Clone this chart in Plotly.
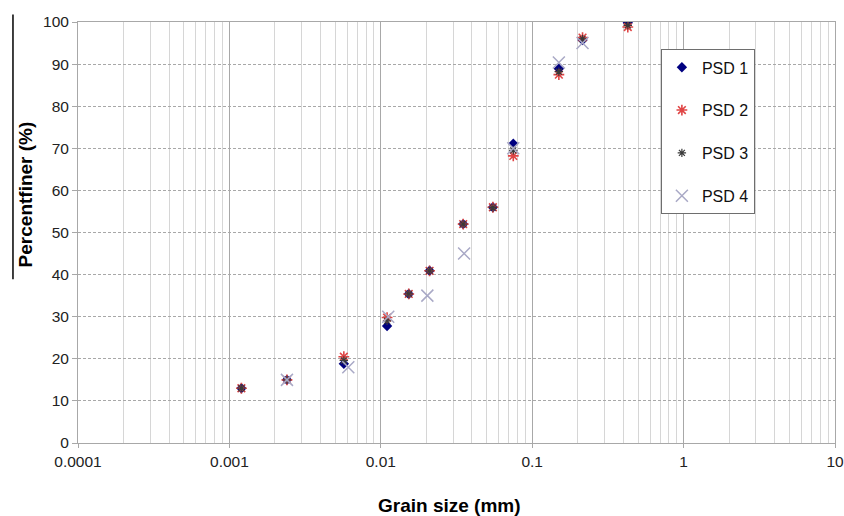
import plotly.graph_objects as go

# ---- data ----
psd1_x = [0.0012, 0.0024, 0.0057, 0.011, 0.0153, 0.021, 0.035, 0.055, 0.075, 0.150, 0.215, 0.428]
psd1_y = [13.0, 15.0, 18.8, 27.8, 35.4, 40.9, 52.0, 56.0, 71.1, 88.9, 95.7, 99.8]

psd2_x = [0.0012, 0.0024, 0.0057, 0.011, 0.0153, 0.021, 0.035, 0.055, 0.075, 0.150, 0.215, 0.428]
psd2_y = [13.0, 15.0, 20.5, 29.8, 35.4, 40.9, 52.0, 56.0, 68.2, 87.5, 96.3, 98.8]

psd3_x = [0.0012, 0.0024, 0.0057, 0.011, 0.0153, 0.021, 0.035, 0.055, 0.075, 0.150, 0.215, 0.428]
psd3_y = [13.0, 15.0, 19.6, 29.0, 35.4, 40.9, 52.0, 55.9, 69.5, 88.2, 96.0, 99.2]

psd4_x = [0.0024, 0.0061, 0.0112, 0.0203, 0.0355, 0.075, 0.150, 0.215]
psd4_y = [15.0, 18.0, 30.0, 35.0, 45.0, 70.0, 90.4, 95.0]

x_tick_vals = [0.0001, 0.001, 0.01, 0.1, 1, 10]
x_tick_text = ["0.0001", "0.001", "0.01", "0.1", "1", "10"]
y_tick_vals = [0, 10, 20, 30, 40, 50, 60, 70, 80, 90, 100]

FONT = "Liberation Sans, Arial, sans-serif"

fig = go.Figure()
fig.add_trace(go.Scatter(x=psd1_x, y=psd1_y, mode="markers", name="PSD 1",
                         legendgroup="g1",
                         marker=dict(symbol="diamond", size=8, color="#000080",
                                     line=dict(width=0))))
fig.add_trace(go.Scatter(x=psd2_x, y=psd2_y, mode="markers", name="PSD 2",
                         legendgroup="g2",
                         marker=dict(symbol="asterisk-open", size=9, color="#E04545",
                                     line=dict(width=1.6, color="#E04545"))))
fig.add_trace(go.Scatter(x=psd3_x, y=psd3_y, mode="markers", name="PSD 3",
                         legendgroup="g3",
                         marker=dict(symbol="asterisk-open", size=7, color="#3a3a3a",
                                     line=dict(width=1.2, color="#3a3a3a"))))
fig.add_trace(go.Scatter(x=psd4_x, y=psd4_y, mode="markers", name="PSD 4",
                         legendgroup="g4",
                         marker=dict(symbol="x-thin-open", size=12, color="#A9A9C6",
                                     line=dict(width=1.5, color="#A9A9C6"))))

fig.update_layout(
    width=844, height=516,
    margin=dict(l=78, r=9, t=22, b=73),
    paper_bgcolor="white", plot_bgcolor="white",
    font=dict(family=FONT, size=15.5, color="#222222"),
    showlegend=True,
    legend=dict(x=0.770, y=0.935, xanchor="left", yanchor="top",
                bgcolor="white", bordercolor="#6e6e6e", borderwidth=1,
                font=dict(family=FONT, size=16, color="#111111"),
                tracegroupgap=19, itemwidth=30),
    xaxis=dict(type="log", range=[-4, 1], automargin=False,
               tickvals=x_tick_vals, ticktext=x_tick_text,
               showgrid=True, gridcolor="#a8a8a8", gridwidth=1,
               showline=True, linecolor="#a8a8a8", linewidth=1, mirror=True,
               ticks="outside", ticklen=4, tickcolor="#a8a8a8",
               tickfont=dict(size=15.5, color="#222222"),
               minor=dict(dtick="D1", showgrid=True, gridcolor="#d6d6d6",
                          gridwidth=1, ticks=""),
               zeroline=False),
    yaxis=dict(range=[0, 100], tickvals=y_tick_vals, automargin=False,
               showgrid=True, gridcolor="#a8a8a8", gridwidth=1,
               griddash="3px,2px",
               showline=True, linecolor="#a8a8a8", linewidth=1, mirror=True,
               ticks="outside", ticklen=5, tickcolor="#a8a8a8",
               tickfont=dict(size=15.5, color="#222222"),
               zeroline=False),
    annotations=[
        dict(text="<b>Percentfiner (%)</b>", xref="paper", yref="paper",
             x=-0.069, y=0.59, xanchor="center", yanchor="middle",
             textangle=-90, showarrow=False,
             font=dict(family=FONT, size=19, color="#000000")),
        dict(text="<b>Grain size (mm)</b>", xref="paper", yref="paper",
             x=0.491, y=-0.148, xanchor="center", yanchor="middle",
             showarrow=False,
             font=dict(family=FONT, size=19, color="#000000")),
    ],
    shapes=[
        dict(type="line", xref="paper", yref="paper",
             x0=-0.0859, x1=-0.0859, y0=1.018, y1=0.389,
             line=dict(color="#000000", width=1.5)),
    ],
)

fig.write_html("out.html",
               config={"displayModeBar": False},
               post_script="document.body.style.margin='0';document.body.style.overflow='hidden';")
